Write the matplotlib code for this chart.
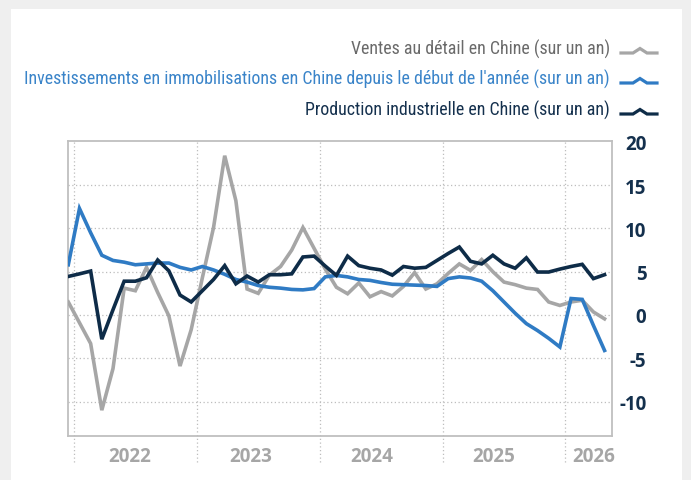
import numpy as np
import matplotlib
matplotlib.use("Agg")
import matplotlib.pyplot as plt
from matplotlib import font_manager
from matplotlib.patches import Rectangle
from matplotlib.lines import Line2D

# ---------------- data (one point per reporting period: Dec, Jan-Feb, Mar..Dec) ----------------
retail = [1.5, -0.9, -3.3, -11.0, -6.2, 3.1, 2.8, 5.5, 2.6, -0.1, -5.9, -1.7,
          4.3, 10.1, 18.4, 13.2, 3.0, 2.5, 4.6, 5.6, 7.5, 10.1, 7.7,
          5.3, 3.2, 2.45, 3.7, 2.1, 2.7, 2.2, 3.3, 4.9, 3.0, 3.6,
          4.8, 5.9, 5.15, 6.4, 5.0, 3.8, 3.5, 3.1, 2.95, 1.5, 1.1,
          1.5, 1.7, 0.35, -0.45]
invest = [5.8, 12.3, 9.5, 6.9, 6.3, 6.1, 5.8, 5.9, 6.0, 6.0, 5.5, 5.2,
          5.6, 5.2, 4.7, 4.1, 3.8, 3.4, 3.2, 3.1, 2.95, 2.9, 3.05,
          4.4, 4.57, 4.4, 4.1, 4.0, 3.75, 3.55, 3.5, 3.45, 3.4, 3.3,
          4.2, 4.4, 4.27, 3.9, 2.8, 1.5, 0.2, -1.0, -1.8, -2.7, -3.7,
          1.9, 1.8, -1.2, -4.1]
indprod = [4.45, 4.75, 5.07, -2.8, 0.6, 3.9, 3.9, 4.3, 6.35, 5.1, 2.3, 1.5,
           2.8, 4.1, 5.7, 3.6, 4.5, 3.8, 4.65, 4.65, 4.75, 6.7, 6.8,
           5.65, 4.57, 6.8, 5.7, 5.4, 5.2, 4.6, 5.6, 5.4, 5.5, 6.3,
           7.1, 7.85, 6.2, 5.9, 6.9, 5.9, 5.4, 6.6, 4.96, 4.96, 5.3,
           5.6, 5.85, 4.2, 4.65]
years = ["2022", "2023", "2024", "2025", "2026"]
yticks = [20, 15, 10, 5, 0, -5, -10]
labels = ["Ventes au détail en Chine (sur un an)",
          "Investissements en immobilisations en Chine depuis le début de l'année (sur un an)",
          "Production industrielle en Chine (sur un an)"]

x = np.arange(len(retail))
periods_per_year = 11

c_gray, c_blue, c_navy = "#a6a6a6", "#2f7bc4", "#0e2c48"
t_gray, t_blue, t_navy = "#6a6a6a", "#3a84c9", "#14304d"


def find_condensed():
    cands = []
    for f in font_manager.fontManager.ttflist:
        st = f.stretch
        is_cond = ("Narrow" in f.name or "Condensed" in f.name or
                   st in ("condensed", "semi-condensed", "extra-condensed") or
                   (isinstance(st, (int, float)) and st < 500))
        w = f.weight
        regular = (w in (400, "normal", "regular", "book")) and f.style == "normal"
        if is_cond and regular:
            cands.append(f)
    pref = ["Liberation Sans Narrow", "Open Sans", "Noto Sans", "Roboto", "DejaVu Sans"]
    for p in pref:
        for f in cands:
            if f.name.startswith(p):
                return font_manager.FontProperties(fname=f.fname)
    if cands:
        return font_manager.FontProperties(fname=cands[0].fname)
    return None


def has_font(name):
    try:
        font_manager.findfont(font_manager.FontProperties(family=name), fallback_to_default=False)
        return True
    except Exception:
        return False


cond_fp = find_condensed()
tick_font = "Open Sans" if has_font("Open Sans") else "DejaVu Sans"

W, H = 691, 481
fig = plt.figure(figsize=(W / 100, H / 100), dpi=100)
fig.patch.set_facecolor("#efefef")
fig.patches.append(Rectangle((11 / W, 0), (682 - 11) / W, (H - 10) / H,
                             transform=fig.transFigure, facecolor="white",
                             edgecolor="none", zorder=-10))

ax = fig.add_axes([68.3 / W, 1 - 436.7 / H, (611.7 - 68.3) / W, (436.7 - 142) / H])
ax.set_zorder(2)
ax.set_facecolor("white")

lw = 2.6
ax.plot(x, retail, color=c_gray, lw=lw, solid_joinstyle="miter", zorder=3)
ax.plot(x, invest, color=c_blue, lw=lw, solid_joinstyle="miter", zorder=4)
ax.plot(x, indprod, color=c_navy, lw=lw, solid_joinstyle="miter", zorder=5)

ax.set_ylim(-13.95, 20.1)
ax.set_xlim(0, 48.64)

grid_kw = dict(color="#bdbdbd", lw=0.9, ls=(0, (1, 2)))
for v in yticks[1:]:
    ax.axhline(v, zorder=1, **grid_kw)
for i in range(len(years)):
    xb = 0.5 + periods_per_year * i
    ax.axvline(xb, ymin=-0.088, ymax=1, clip_on=False, zorder=1, **grid_kw)

for s in ax.spines.values():
    s.set_color("#bfbfbf")
    s.set_linewidth(1.3)

ax.yaxis.tick_right()
ax.set_yticks(yticks)
ax.set_yticklabels([str(v) for v in yticks])
ax.tick_params(axis="y", length=0, pad=25, labelsize=13.5, labelcolor=t_navy)
for lab in ax.get_yticklabels():
    lab.set_horizontalalignment("right")
    lab.set_fontweight("bold")
    lab.set_fontfamily(tick_font)

ax.set_xticks([])
ypos_year = -0.068
for i, yr in enumerate(years):
    xc = 0.5 + periods_per_year * i + 5.0 - 0.15 * i if i < len(years) - 1 else 47.0
    ax.text(xc, ypos_year, yr, transform=ax.get_xaxis_transform(), ha="center", va="center",
            fontsize=13.5, fontweight="bold", color="#a6a6a6", family=tick_font)

# legend (custom, right-aligned with caret icons)
rows_y = [49, 79, 110]
tcols = [t_gray, t_blue, t_navy]
lcols = [c_gray, c_blue, c_navy]
for ty, lab, tc, lc in zip(rows_y, labels, tcols, lcols):
    if cond_fp is not None:
        fp = cond_fp.copy()
        fp.set_size(12.9)
        fig.text(610 / W, 1 - ty / H, lab, ha="right", va="center", color=tc,
                 fontproperties=fp)
    else:
        fig.text(610 / W, 1 - ty / H, lab, ha="right", va="center", color=tc,
                 fontsize=11.0, family="DejaVu Sans")
    ly = ty + 5
    px = [621, 633, 640, 647, 657]
    py = [ly, ly, ly - 4.5, ly, ly]
    fig.add_artist(Line2D([p / W for p in px], [1 - p / H for p in py],
                          transform=fig.transFigure, color=lc, lw=2.3,
                          solid_joinstyle="miter"))

fig.savefig("out.png", dpi=100, facecolor=fig.get_facecolor())
